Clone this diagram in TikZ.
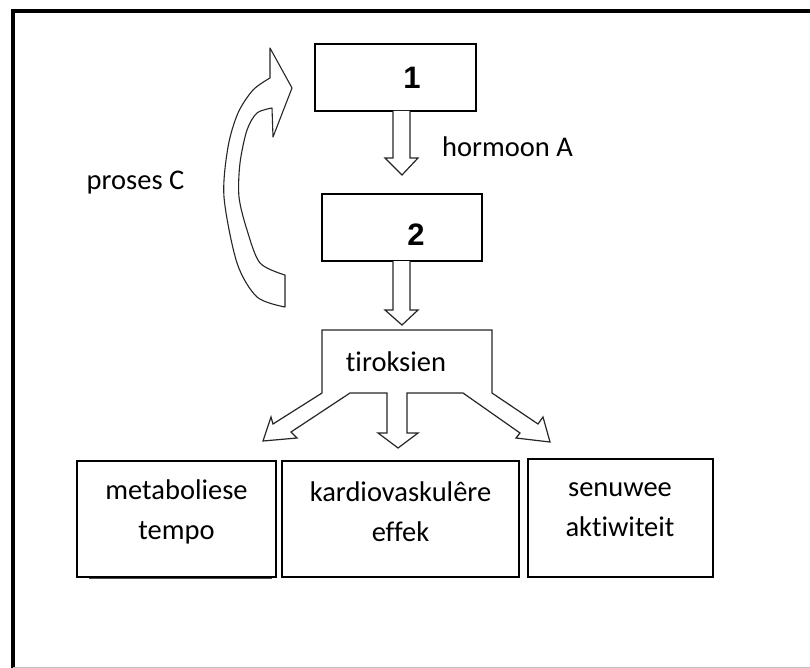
\documentclass[tikz,border=0pt]{standalone}
\usepackage{fontspec}
\setmainfont{Carlito}[Ligatures={NoCommon,NoRequired,NoContextual}]
\newfontfamily\numfont{Liberation Sans}
\begin{document}
\begin{tikzpicture}[x=1pt,y=-1pt,
  box/.style={draw=black, line width=1.6pt, fill=none, inner sep=0pt},
  lbl/.style={font=\fontsize{28.5}{40}\selectfont, inner sep=0pt, align=center},
  num/.style={font=\numfont\bfseries\fontsize{31}{31}\selectfont, inner sep=0pt},
  blockarrow/.style={draw=black!85, line width=1.2pt, line join=miter, fill=white}]
\useasboundingbox (0,0) rectangle (810,668);
\fill[white] (0,0) rectangle (810,668);
% frame
\draw[line width=4pt] (13,668) -- (13,11) -- (810,11);
\draw[black!25, line width=1pt] (13,667) -- (810,667);

% boxes 1 and 2
\node[box, minimum width=161pt, minimum height=67pt] (b1) at (395.5,77.5) {};
\node[num] (t1) at (412,78) {1};
\node[box, minimum width=160pt, minimum height=67pt] (b2) at (402,227.5) {};
\node[num] (t2) at (416,235) {2};

% arrow 1 -> 2
\draw[blockarrow] (393,111) -- (393,158) -- (385,158) -- (402,175) -- (418,158) -- (410,158) -- (410,111);
\node[lbl, anchor=west] (hA) at (442,147) {hormoon A};

% arrow 2 -> tiroksien
\draw[blockarrow] (393,261) -- (393,310) -- (385,310) -- (402,325) -- (418,310) -- (410,310) -- (410,261);

% tiroksien shape with three arrows
\draw[blockarrow] (322,330) -- (492,330) -- (492,393) -- (538,424) -- (543,417) -- (550,442) -- (516,438) -- (520,433)
  -- (463,393) -- (407,393) -- (407,433) -- (418,433) -- (398,448) -- (378,433) -- (387,433) -- (387,393)
  -- (350,393) -- (291,432) -- (297,438) -- (263,441) -- (271,417) -- (273,424) -- (322,393) -- cycle;
\node[lbl] (tir) at (396,362) {tiroksien};

% curved arrow (proses C)
\draw[blockarrow, line width=1.1pt, line join=round]
  (285,275) -- (285,307)
  -- plot[smooth, tension=0.5] coordinates {(285,307) (257,297) (237,263) (224,197) (228,147) (238,113) (253,90) (270,78)}
  -- (270,48) -- (292,88) -- (273,137) -- (272,108)
  -- plot[smooth, tension=0.5] coordinates {(272,108) (257,113) (247,130) (240,163) (239,197) (247,230) (260,263) (285,275)}
  -- cycle;
\node[lbl] (pC) at (135.5,183) {proses C};

% bottom boxes
\node[box, minimum width=199pt, minimum height=116pt] (m) at (176.5,519) {};
\draw[black!70, line width=1pt] (89,578.5) -- (272,578.5);
\node[lbl] (mt) at (176.5,512) {metaboliese\\tempo};
\node[box, minimum width=237pt, minimum height=116pt] (k) at (400.5,519) {};
\node[lbl] (kt) at (400.5,512) {kardiovaskulêre\\effek};
\node[box, minimum width=185pt, minimum height=118pt] (s) at (620.5,518) {};
\node[lbl] (st) at (620,510) {senuwee\\aktiwiteit};
\end{tikzpicture}
\end{document}
